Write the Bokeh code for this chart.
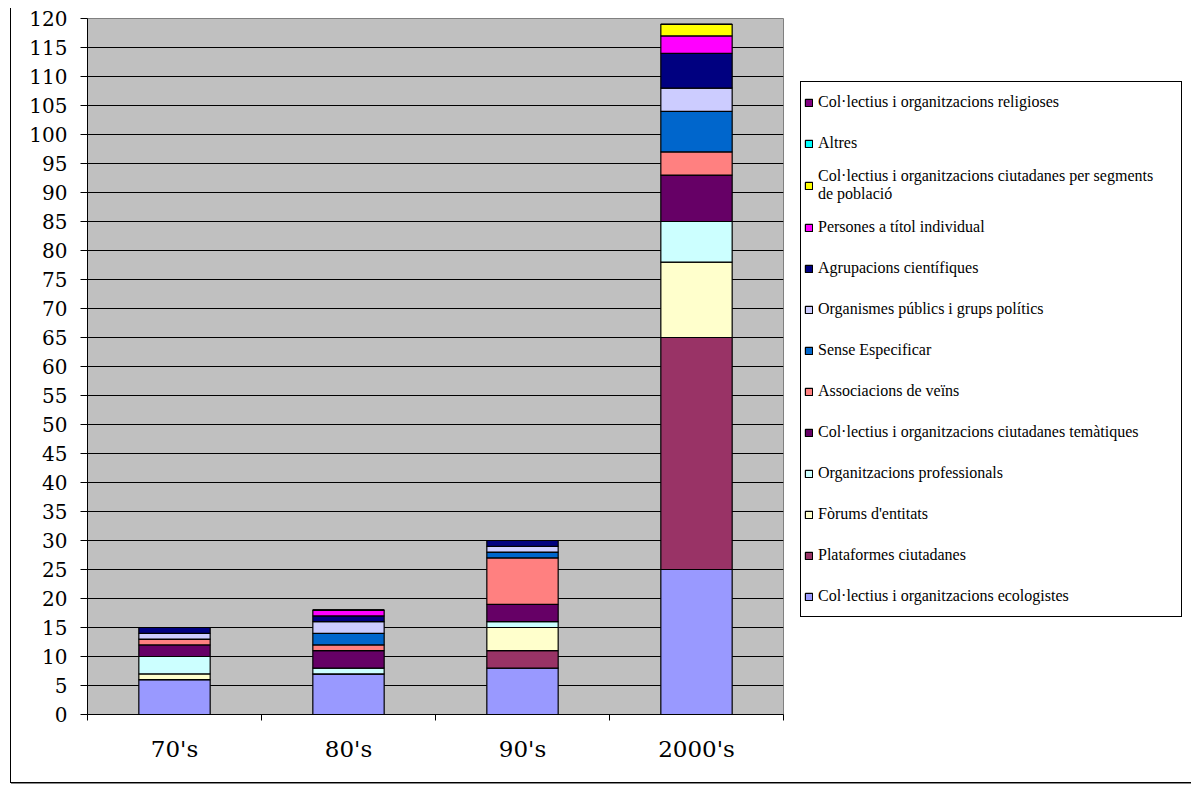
from bokeh.plotting import figure
from bokeh.models import (ColumnDataSource, Range1d, FixedTicker, Legend, LegendItem)
from bokeh.embed import file_html
from bokeh.resources import INLINE

# ---- data ----
categories = ["70's", "80's", "90's", "2000's"]

series_names = [
    "Col·lectius i organitzacions ecologistes",
    "Plataformes ciutadanes",
    "Fòrums d'entitats",
    "Organitzacions professionals",
    "Col·lectius i organitzacions ciutadanes temàtiques",
    "Associacions de veïns",
    "Sense Especificar",
    "Organismes públics i grups polítics",
    "Agrupacions científiques",
    "Persones a títol individual",
    "Col·lectius i organitzacions ciutadanes per segments\nde població",
    "Altres",
    "Col·lectius i organitzacions religioses",
]

ecologistes   = [6, 7, 8, 25]
plataformes   = [0, 0, 3, 40]
forums        = [1, 0, 4, 13]
professionals = [3, 1, 1, 7]
tematiques    = [2, 3, 3, 8]
veins         = [1, 1, 8, 4]
sense_espec   = [0, 2, 1, 7]
organismes    = [1, 2, 1, 4]
agrupacions   = [1, 1, 1, 6]
persones      = [0, 1, 0, 3]
segments      = [0, 0, 0, 2]
altres        = [0, 0, 0, 0]
religioses    = [0, 0, 0, 0]

series_values = [ecologistes, plataformes, forums, professionals, tematiques, veins,
                 sense_espec, organismes, agrupacions, persones, segments, altres, religioses]

colors = ["#9999FF", "#993366", "#FFFFCC", "#CCFFFF", "#660066", "#FF8080",
          "#0066CC", "#CCCCFF", "#000080", "#FF00FF", "#FFFF00", "#00FFFF", "#800080"]

y_ticks = list(range(0, 121, 5))

# ---- build ----
keys = [f"s{i}" for i in range(len(series_values))]
xpos = [i + 0.5 for i in range(len(categories))]
data = {"x": xpos}
for k, v in zip(keys, series_values):
    data[k] = v
source = ColumnDataSource(data)

p = figure(frame_width=696, frame_height=696,
           min_border_left=76, min_border_right=402, min_border_top=10, min_border_bottom=68,
           x_range=Range1d(0, len(categories)), y_range=Range1d(0, 120),
           output_backend="svg", toolbar_location=None,
           background_fill_color="#C0C0C0", border_fill_color="white",
           outline_line_color="#808080")
p.styles = {"margin-left": "10px", "margin-top": "8px", "border-left": "1px solid #000",
            "border-right": "1px solid #000", "border-bottom": "1px solid #000",
            "box-shadow": "1px 1px 0 #888"}

renderers = p.vbar_stack(keys, x="x", width=0.41, color=colors, line_color="black",
                         line_width=1.2, source=source)

# y axis
yax = p.yaxis[0]
yax.ticker = FixedTicker(ticks=y_ticks)
yax.major_tick_out = 7
yax.major_tick_in = 0
yax.minor_tick_out = 0
yax.minor_tick_in = 0
yax.axis_line_color = "black"
yax.major_tick_line_color = "black"
yax.major_label_standoff = 13
yax.major_label_text_font = "DejaVu Serif"
yax.major_label_text_font_size = "20px"
yax.major_label_text_color = "black"

# x axis
xax = p.xaxis[0]
xax.ticker = FixedTicker(ticks=xpos, minor_ticks=list(range(len(categories) + 1)))
xax.major_label_overrides = {x: c for x, c in zip(xpos, categories)}
xax.major_tick_out = 0
xax.major_tick_in = 0
xax.minor_tick_out = 6
xax.minor_tick_in = 0
xax.minor_tick_line_color = "black"
xax.axis_line_color = "black"
xax.major_label_standoff = 15
xax.major_label_text_font = "DejaVu Serif"
xax.major_label_text_font_size = "23px"
xax.major_label_text_color = "black"

p.xgrid.visible = False
p.ygrid.ticker = FixedTicker(ticks=y_ticks)
p.ygrid.grid_line_color = "black"
p.ygrid.grid_line_width = 1

items = [LegendItem(label=name, renderers=[r]) for name, r in zip(series_names, renderers)]
items.reverse()
legend = Legend(items=items, location=(17, 97), margin=0, padding=3, spacing=7,
                label_height=34, glyph_height=9, glyph_width=9, label_width=360,
                label_standoff=5, border_line_color="black", border_line_width=1,
                border_line_alpha=1,
                background_fill_color="white", background_fill_alpha=1,
                label_text_font="Liberation Serif", label_text_font_size="16px",
                label_text_color="black")
p.add_layout(legend, "right")

open("out.html", "w").write(file_html(p, INLINE))
